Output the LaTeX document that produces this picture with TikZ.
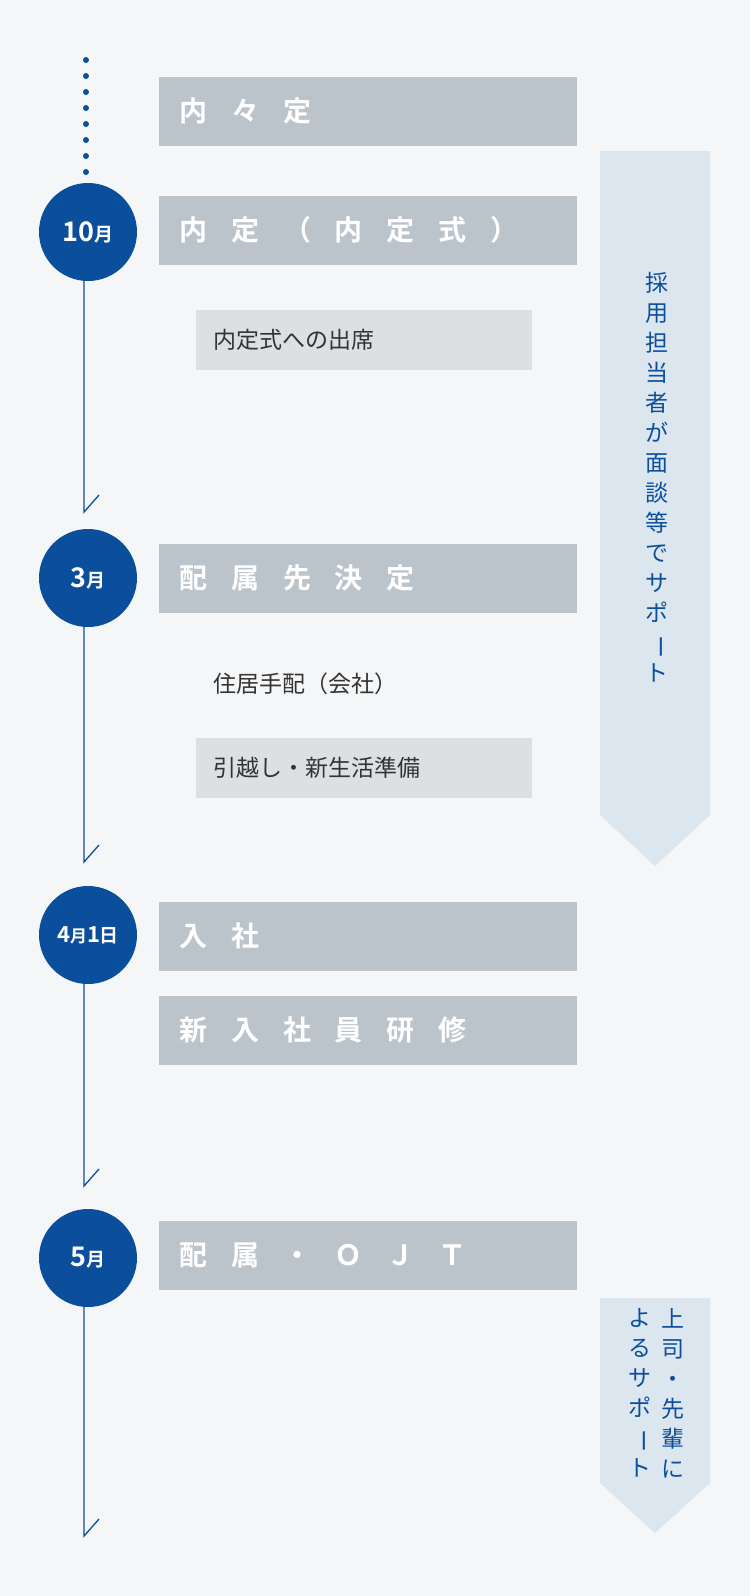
\documentclass[tikz,border=0pt]{standalone}
\usepackage{fontspec}
\setmainfont{Noto Sans CJK JP}
\newfontfamily\jpb[LetterSpace=85]{Noto Sans CJK JP Bold}
\newfontfamily\jpbold{Noto Sans CJK JP Bold}
\definecolor{bg}{HTML}{F4F6F8}
\definecolor{navy}{HTML}{0B4F9C}
\definecolor{barg}{HTML}{BCC4CB}
\definecolor{lightg}{HTML}{DCE0E3}
\definecolor{lblue}{HTML}{DCE6EF}
\definecolor{txt}{HTML}{333333}
\tikzset{
  circ/.style={circle,fill=navy,minimum size=98pt,inner sep=0,text=white,font=\jpbold},
  bar/.style={fill=barg,draw=none},
  bartext/.style={anchor=west,text=white,font=\fontsize{28}{28}\jpb},
  sub/.style={anchor=west,text=txt,font=\fontsize{23}{23}\selectfont},
  vline/.style={navy,line width=1.3pt},
  vtext/.style={text=navy,font=\fontsize{23}{30}\selectfont,align=center,anchor=north,inner sep=0}
}
\newcommand{\vbar}{\rotatebox[origin=c]{-90}{ー}}
\begin{document}
\begin{tikzpicture}[x=1pt,y=-1pt]
\fill[bg] (0,0) rectangle (750,1596);
\useasboundingbox (0,0) rectangle (750,1596);
% arrows right
\fill[lblue] (600,151) -- (710,151) -- (710,815) -- (655,866) -- (600,815) -- cycle;
\fill[lblue] (600,1298) -- (710,1298) -- (710,1483) -- (655,1533) -- (600,1483) -- cycle;
\node[vtext] (s1) at (657,272) {採\\用\\担\\当\\者\\が\\面\\談\\等\\で\\サ\\ポ\\\vbar\\ト};
\node[vtext] (s2a) at (673,1308) {上\\司\\・\\先\\輩\\に};
\node[vtext] (s2b) at (640,1308) {よ\\る\\サ\\ポ\\\vbar\\ト};
% dots
\foreach \y in {60,76,...,172} \fill[navy] (86,\y) circle (3pt);
% circles
\node[circ] (c1) at (88,232) {\fontsize{27}{27}\selectfont 10\fontsize{19}{19}\selectfont 月};
\node[circ] (c2) at (88,578) {\fontsize{27}{27}\selectfont 3\fontsize{19}{19}\selectfont 月};
\node[circ] (c3) at (88,935) {\fontsize{22}{22}\selectfont 4\fontsize{17}{17}\selectfont 月\fontsize{22}{22}\selectfont 1\fontsize{19}{19}\selectfont 日};
\node[circ] (c4) at (88,1258) {\fontsize{27}{27}\selectfont 5\fontsize{19}{19}\selectfont 月};
\coordinate (e1) at (84,512); \coordinate (e2) at (84,862);
\coordinate (e3) at (84,1186); \coordinate (e4) at (84,1536);
\draw[vline] (c1.south -| e1) -- (e1) -- ++(15,-17);
\draw[vline] (c2.south -| e2) -- (e2) -- ++(15,-17);
\draw[vline] (c3.south -| e3) -- (e3) -- ++(15,-17);
\draw[vline] (c4.south -| e4) -- (e4) -- ++(15,-17);
% bars
\fill[bar] (159,77) rectangle (577,146);
\node[bartext] (b1) at (176,111) {内々定};
\fill[bar] (159,196) rectangle (577,265);
\node[bartext] (b2) at (176,230) {内定（内定式）};
\fill[bar] (159,544) rectangle (577,613);
\node[bartext] (b3) at (176,578) {配属先決定};
\fill[bar] (159,902) rectangle (577,971);
\node[bartext] (b4) at (176,936) {入社};
\fill[bar] (159,996) rectangle (577,1065);
\node[bartext] (b5) at (176,1030) {新入社員研修};
\fill[bar] (159,1221) rectangle (577,1290);
\node[bartext] (b6) at (176,1255) {配属・ＯＪＴ};
% sub boxes
\fill[lightg] (196,310) rectangle (532,370);
\node[sub] (t1) at (210,340) {内定式への出席};
\node[sub] (t2) at (210,684) {住居手配（会社）};
\fill[lightg] (196,738) rectangle (532,798);
\node[sub] (t3) at (210,768) {引越し・新生活準備};
\end{tikzpicture}
\end{document}
